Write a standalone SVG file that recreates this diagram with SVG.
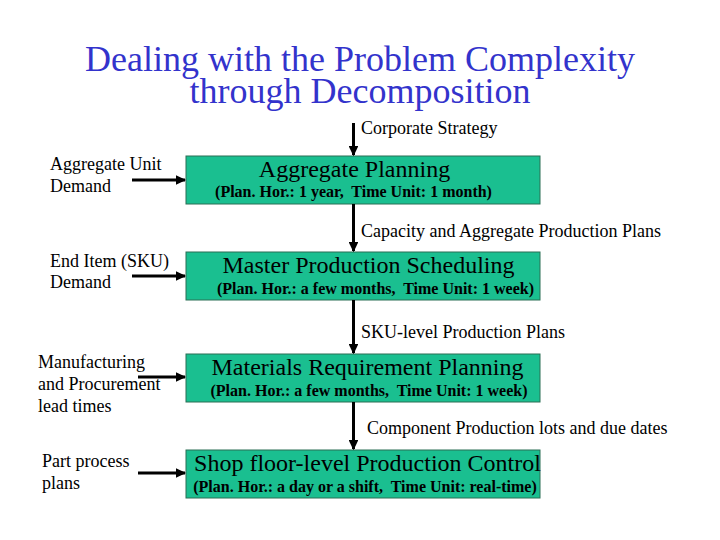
<svg xmlns="http://www.w3.org/2000/svg" width="720" height="540" viewBox="0 0 720 540">
<defs>
<marker id="ah" markerWidth="3.4" markerHeight="3.2" refX="3" refY="1.6" orient="auto" markerUnits="strokeWidth">
<path d="M0,0 L3.4,1.6 L0,3.2 z" fill="#000"/>
</marker>
<style>
.title{font-size:36px;fill:#3333CC;text-anchor:middle}
.box{fill:#1ABF90;stroke:#2A6F55;stroke-width:1}
.bt{font-size:24px;fill:#000;text-anchor:middle}
.bs{font-size:16px;font-weight:bold;fill:#000;text-anchor:middle}
.lbl{font-size:18px;fill:#000}
.arr{stroke:#000;stroke-width:3;fill:none;marker-end:url(#ah)}
</style>
</defs>
<rect width="720" height="540" fill="#fff"/>
<g id="title" font-family="Liberation Serif">
<text class="title" x="360" y="71">Dealing with the Problem Complexity</text>
<text class="title" x="360" y="103">through Decomposition</text>
</g>

<g id="n1" font-family="Liberation Serif">
<rect class="box" x="186" y="156" width="354" height="48"/>
<text class="bt" x="354.5" y="177">Aggregate Planning</text>
<text class="bs" x="353.5" y="197" xml:space="preserve">(Plan. Hor.: 1 year,  Time Unit: 1 month)</text>
</g>
<g id="n2" font-family="Liberation Serif">
<rect class="box" x="186" y="252" width="354" height="48"/>
<text class="bt" x="368.5" y="273">Master Production Scheduling</text>
<text class="bs" x="375.5" y="294" xml:space="preserve">(Plan. Hor.: a few months,  Time Unit: 1 week)</text>
</g>
<g id="n3" font-family="Liberation Serif">
<rect class="box" x="186" y="354" width="354" height="48"/>
<text class="bt" x="367.5" y="375">Materials Requirement Planning</text>
<text class="bs" x="369" y="396" xml:space="preserve">(Plan. Hor.: a few months,  Time Unit: 1 week)</text>
</g>
<g id="n4" font-family="Liberation Serif">
<rect class="box" x="186" y="450" width="354" height="48"/>
<text class="bt" x="367.5" y="471">Shop floor-level Production Control</text>
<text class="bs" x="365" y="492" xml:space="preserve">(Plan. Hor.: a day or a shift,  Time Unit: real-time)</text>
</g>

<g id="labels" font-family="Liberation Serif">
<text class="lbl" x="50" y="170">Aggregate Unit</text>
<text class="lbl" x="50" y="192">Demand</text>
<text class="lbl" x="50" y="267">End Item (SKU)</text>
<text class="lbl" x="50" y="288">Demand</text>
<text class="lbl" x="38" y="368">Manufacturing</text>
<text class="lbl" x="38" y="390">and Procurement</text>
<text class="lbl" x="38" y="412">lead times</text>
<text class="lbl" x="42" y="467">Part process</text>
<text class="lbl" x="42" y="489">plans</text>
<text class="lbl" x="361" y="134">Corporate Strategy</text>
<text class="lbl" x="361" y="237">Capacity and Aggregate Production Plans</text>
<text class="lbl" x="361" y="338">SKU-level Production Plans</text>
<text class="lbl" x="367" y="434">Component Production lots and due dates</text>
</g>

<g id="connectors">
<line class="arr" x1="353.5" y1="123" x2="353.5" y2="155"/>
<line class="arr" x1="353.5" y1="204" x2="353.5" y2="251"/>
<line class="arr" x1="353.5" y1="300" x2="353.5" y2="353"/>
<line class="arr" x1="353.5" y1="402" x2="353.5" y2="449"/>
<line class="arr" x1="132" y1="180" x2="185" y2="180"/>
<line class="arr" x1="132" y1="276" x2="185" y2="276"/>
<line class="arr" x1="138" y1="377" x2="185" y2="377"/>
<line class="arr" x1="138" y1="473" x2="185" y2="473"/>
</g>
</svg>
